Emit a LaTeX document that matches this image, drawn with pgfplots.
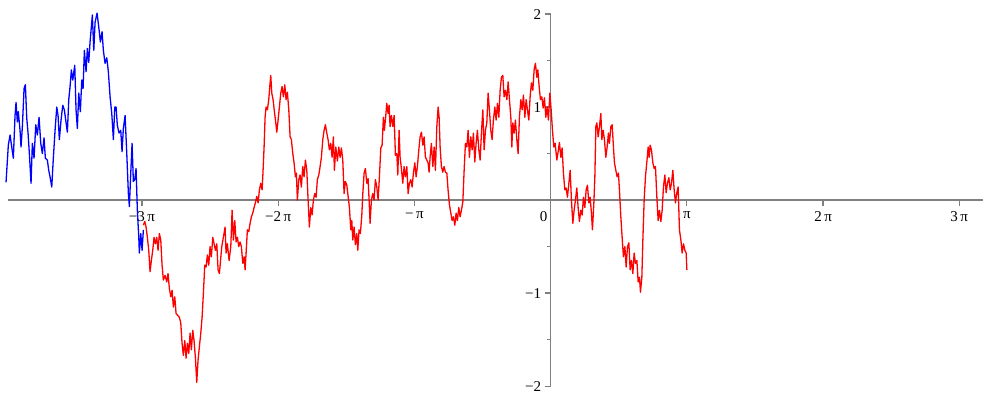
\documentclass[border=0pt]{standalone}
\usepackage{fontspec}
\setmainfont{Liberation Serif}
\usepackage{pgfplots}
\pgfplotsset{compat=1.18}
\begin{document}
\begin{tikzpicture}
\begin{axis}[
  x=43.35pt, y=93pt,
  xmin=-12.52, xmax=9.98, ymin=-2, ymax=2,
  axis lines=middle,
  axis line style={-, draw=gray, line width=1.2pt},
  xtick={-9.42478,-6.28319,-3.14159,3.14159,6.28319,9.42478},
  xticklabels={−3\,π,−2\,π,−\,π,π,2\,π,3\,π},
  ytick={-2,-1,1,2}, yticklabels={−2,−1,1,2},
  minor ytick={-1.5,-0.5,0.5,1.5},
  tick align=outside,
  major tick length=6pt, minor tick length=3.5pt,
  tick style={draw=gray, line width=1.2pt},
  ticklabel style={font=\fontsize{15}{17}\selectfont},
  xticklabel style={yshift=-2pt},
  clip=false,
]
\addplot[blue, line width=1.3pt, line join=round] coordinates {
(-12.561,0.19)(-12.508,0.59)(-12.468,0.70)(-12.429,0.57)(-12.392,0.45)(-12.353,0.91)(-12.330,1.05)(-12.300,0.84)(-12.277,0.95)(-12.238,0.75)(-12.215,0.57)(-12.184,0.79)(-12.145,1.20)(-12.115,1.24)(-12.083,0.88)(-12.053,0.72)(-12.023,0.50)(-11.984,0.18)(-11.954,0.61)(-11.915,0.45)(-11.875,0.81)(-11.838,0.70)(-11.799,0.89)(-11.760,0.61)(-11.723,0.50)(-11.684,0.67)(-11.654,0.45)(-11.608,0.43)(-11.576,0.32)(-11.546,0.25)(-11.506,0.14)(-11.470,0.45)(-11.430,0.75)(-11.391,1.00)(-11.361,0.91)(-11.331,0.65)(-11.292,0.86)(-11.252,1.02)(-11.216,0.97)(-11.176,0.83)(-11.146,0.73)(-11.114,1.08)(-11.084,1.22)(-11.054,1.40)(-11.022,1.29)(-10.976,1.45)(-10.946,0.97)(-10.916,0.77)(-10.883,1.15)(-10.847,0.95)(-10.814,1.29)(-10.784,1.20)(-10.754,1.61)(-10.715,1.38)(-10.685,1.63)(-10.653,1.48)(-10.623,1.70)(-10.593,1.86)(-10.570,1.99)(-10.537,1.61)(-10.507,1.91)(-10.461,2.01)(-10.422,1.86)(-10.385,1.70)(-10.346,1.81)(-10.316,1.61)(-10.277,1.47)(-10.237,1.53)(-10.201,1.38)(-10.161,1.11)(-10.122,0.93)(-10.085,0.65)(-10.053,1.00)(-10.023,1.00)(-9.993,0.80)(-9.954,0.72)(-9.915,0.75)(-9.885,0.52)(-9.855,0.77)(-9.815,0.91)(-9.776,0.50)(-9.739,0.07)(-9.716,-0.07)(-9.684,0.29)(-9.654,0.61)(-9.624,0.20)(-9.592,0.22)(-9.562,0.34)(-9.532,-0.11)(-9.499,-0.40)(-9.486,-0.57)(-9.453,-0.36)(-9.423,-0.54)(-9.393,-0.32)
};
\addplot[red, line width=1.3pt, line join=round] coordinates {
(-9.394,-0.27)(-9.361,-0.23)(-9.331,-0.29)(-9.301,-0.40)(-9.269,-0.54)(-9.239,-0.77)(-9.209,-0.65)(-9.177,-0.54)(-9.147,-0.40)(-9.117,-0.47)(-9.085,-0.40)(-9.055,-0.54)(-9.024,-0.36)(-8.992,-0.43)(-8.962,-0.70)(-8.932,-0.86)(-8.893,-0.81)(-8.854,-0.88)(-8.824,-0.79)(-8.794,-0.95)(-8.761,-1.04)(-8.731,-0.97)(-8.701,-1.15)(-8.669,-1.04)(-8.639,-1.22)(-8.600,-1.24)(-8.563,-1.26)(-8.531,-1.32)(-8.501,-1.54)(-8.471,-1.67)(-8.438,-1.51)(-8.408,-1.70)(-8.378,-1.54)(-8.346,-1.65)(-8.316,-1.43)(-8.286,-1.61)(-8.254,-1.40)(-8.224,-1.51)(-8.194,-1.69)(-8.162,-1.96)(-8.132,-1.72)(-8.102,-1.58)(-8.069,-1.43)(-8.039,-1.26)(-8.009,-1.00)(-7.977,-0.70)(-7.947,-0.72)(-7.917,-0.59)(-7.885,-0.70)(-7.855,-0.50)(-7.825,-0.61)(-7.793,-0.40)(-7.762,-0.47)(-7.732,-0.54)(-7.700,-0.47)(-7.670,-0.75)(-7.640,-0.79)(-7.585,-0.50)(-7.548,-0.40)(-7.509,-0.29)(-7.486,-0.57)(-7.456,-0.47)(-7.416,-0.65)(-7.377,-0.50)(-7.347,-0.11)(-7.317,-0.43)(-7.285,-0.22)(-7.255,-0.45)(-7.225,-0.40)(-7.193,-0.50)(-7.163,-0.45)(-7.133,-0.50)(-7.100,-0.68)(-7.070,-0.61)(-7.047,-0.75)(-7.024,-0.57)(-6.994,-0.32)(-6.962,-0.34)(-6.932,-0.25)(-6.902,-0.18)(-6.870,-0.14)(-6.840,-0.08)(-6.810,-0.03)(-6.777,0.04)(-6.747,-0.03)(-6.717,0.11)(-6.685,0.18)(-6.655,0.11)(-6.639,0.25)(-6.609,0.57)(-6.586,0.89)(-6.563,1.00)(-6.533,0.97)(-6.501,1.08)(-6.478,1.22)(-6.455,1.34)(-6.432,1.15)(-6.401,1.08)(-6.371,0.95)(-6.339,0.83)(-6.316,0.73)(-6.286,0.86)(-6.256,1.00)(-6.224,1.15)(-6.194,1.22)(-6.164,1.11)(-6.132,1.24)(-6.102,1.08)(-6.072,1.16)(-6.039,0.97)(-6.009,0.68)(-5.979,0.65)(-5.947,0.50)(-5.917,0.40)(-5.887,0.25)(-5.864,0.29)(-5.841,0.00)(-5.809,0.22)(-5.779,0.27)(-5.749,0.14)(-5.717,0.36)(-5.687,0.25)(-5.656,0.43)(-5.624,0.32)(-5.594,0.00)(-5.564,-0.29)(-5.532,-0.08)(-5.502,-0.16)(-5.472,0.00)(-5.440,0.07)(-5.410,0.03)(-5.380,0.22)(-5.347,0.27)(-5.317,0.36)(-5.287,0.46)(-5.255,0.65)(-5.225,0.75)(-5.195,0.81)(-5.163,0.72)(-5.133,0.65)(-5.103,0.54)(-5.071,0.61)(-5.041,0.46)(-5.011,0.68)(-4.987,0.32)(-4.955,0.57)(-4.918,0.42)(-4.886,0.57)(-4.856,0.46)(-4.826,0.56)(-4.794,0.43)(-4.764,0.07)(-4.734,0.20)(-4.701,0.16)(-4.671,0.04)(-4.641,-0.08)(-4.609,-0.32)(-4.586,-0.22)(-4.563,-0.43)(-4.533,-0.29)(-4.503,-0.48)(-4.471,-0.36)(-4.448,-0.54)(-4.418,-0.32)(-4.388,-0.36)(-4.355,-0.16)(-4.332,0.07)(-4.302,0.29)(-4.272,0.34)(-4.240,0.18)(-4.210,0.23)(-4.187,0.00)(-4.164,-0.25)(-4.134,0.00)(-4.102,0.07)(-4.072,0.00)(-4.042,0.22)(-4.009,0.14)(-3.979,0.00)(-3.949,0.25)(-3.917,0.56)(-3.887,0.59)(-3.857,0.89)(-3.834,0.75)(-3.802,0.91)(-3.779,1.04)(-3.749,0.93)(-3.726,1.02)(-3.703,0.79)(-3.673,0.91)(-3.640,0.79)(-3.610,0.91)(-3.580,0.48)(-3.548,0.50)(-3.525,0.27)(-3.495,0.75)(-3.472,0.46)(-3.442,0.34)(-3.410,0.18)(-3.380,0.36)(-3.350,0.25)(-3.317,0.36)(-3.287,0.07)(-3.257,0.18)(-3.225,0.22)(-3.195,0.14)(-3.165,0.29)(-3.133,0.40)(-3.103,0.25)(-3.073,0.36)(-3.040,0.54)(-3.010,0.68)(-2.980,0.73)(-2.948,0.59)(-2.918,0.68)(-2.888,0.46)(-2.856,0.43)(-2.826,0.40)(-2.803,0.30)(-2.780,0.46)(-2.750,0.61)(-2.717,0.36)(-2.687,0.57)(-2.657,0.32)(-2.625,0.79)(-2.595,1.00)(-2.572,0.89)(-2.549,0.57)(-2.519,0.36)(-2.487,0.30)(-2.457,0.36)(-2.427,0.30)(-2.394,0.29)(-2.364,0.10)(-2.334,-0.05)(-2.302,-0.14)(-2.272,-0.22)(-2.242,-0.18)(-2.210,-0.27)(-2.180,-0.14)(-2.150,-0.22)(-2.118,-0.08)(-2.088,-0.18)(-2.058,-0.11)(-2.025,-0.02)(-1.995,0.32)(-1.965,0.61)(-1.933,0.57)(-1.903,0.75)(-1.873,0.46)(-1.841,0.68)(-1.811,0.54)(-1.781,0.72)(-1.749,0.41)(-1.719,0.61)(-1.689,0.75)(-1.656,0.54)(-1.626,0.43)(-1.596,0.72)(-1.564,0.97)(-1.534,0.54)(-1.504,0.75)(-1.472,0.83)(-1.442,1.15)(-1.412,0.97)(-1.380,0.75)(-1.350,0.65)(-1.320,0.86)(-1.287,1.00)(-1.257,0.86)(-1.227,1.04)(-1.195,0.89)(-1.165,1.18)(-1.135,1.32)(-1.103,1.34)(-1.073,1.11)(-1.043,1.18)(-1.010,1.08)(-0.980,1.27)(-0.950,1.08)(-0.918,0.89)(-0.895,0.57)(-0.872,0.83)(-0.842,0.72)(-0.812,0.86)(-0.780,0.65)(-0.750,0.50)(-0.720,0.89)(-0.687,1.08)(-0.657,0.97)(-0.627,1.13)(-0.595,0.89)(-0.565,1.08)(-0.535,0.97)(-0.503,0.86)(-0.473,1.11)(-0.443,1.26)(-0.411,1.18)(-0.381,1.40)(-0.351,1.47)(-0.318,1.32)(-0.295,1.40)(-0.265,1.22)(-0.235,1.08)(-0.203,1.11)(-0.173,0.99)(-0.143,1.10)(-0.111,0.89)(-0.081,1.00)(-0.051,0.86)(-0.018,1.15)(0.012,0.97)(0.042,0.75)(0.074,0.57)(0.104,0.61)(0.143,0.43)(0.173,0.52)(0.203,0.62)(0.235,0.46)(0.265,0.56)(0.295,0.29)(0.328,0.11)(0.358,0.13)(0.388,0.03)(0.420,0.18)(0.450,0.32)(0.480,0.00)(0.512,-0.25)(0.542,-0.11)(0.572,0.00)(0.604,0.13)(0.634,-0.08)(0.664,-0.23)(0.697,-0.11)(0.727,-0.16)(0.757,0.03)(0.789,-0.08)(0.819,0.11)(0.849,0.16)(0.881,-0.03)(0.911,0.03)(0.941,-0.14)(0.964,-0.32)(0.997,-0.03)(1.020,0.25)(1.043,0.79)(1.066,0.83)(1.096,0.68)(1.126,0.79)(1.158,0.93)(1.181,0.65)(1.211,0.75)(1.241,0.65)(1.273,0.46)(1.303,0.57)(1.333,0.72)(1.356,0.61)(1.389,0.79)(1.419,0.81)(1.449,0.57)(1.472,0.40)(1.504,0.32)(1.534,0.25)(1.564,0.29)(1.587,0.11)(1.619,-0.18)(1.649,-0.40)(1.679,-0.61)(1.712,-0.50)(1.742,-0.72)(1.772,-0.50)(1.804,-0.46)(1.834,-0.75)(1.864,-0.65)(1.896,-0.79)(1.926,-0.57)(1.956,-0.68)(1.989,-0.65)(2.019,-0.88)(2.049,-0.83)(2.072,-0.99)(2.104,-0.83)(2.127,-0.43)(2.157,0.00)(2.187,0.25)(2.219,0.41)(2.249,0.57)(2.272,0.46)(2.295,0.59)(2.325,0.54)(2.358,0.40)(2.388,0.34)(2.418,0.36)(2.450,0.03)(2.480,-0.22)(2.510,-0.11)(2.542,-0.23)(2.572,-0.11)(2.602,0.14)(2.634,0.27)(2.664,0.08)(2.694,0.18)(2.727,0.24)(2.757,0.11)(2.787,0.18)(2.819,0.32)(2.849,0.11)(2.879,-0.03)(2.911,0.08)(2.941,0.14)(2.971,-0.32)(3.004,-0.43)(3.034,-0.57)(3.064,-0.47)(3.096,-0.54)(3.126,-0.57)(3.142,-0.75)
};
\node[anchor=north east, inner sep=0pt, font=\fontsize{15}{17}\selectfont] at (axis cs:0,0) [xshift=-3pt, yshift=-11pt] {0};
\path[draw=none] (axis cs:-12.70,-2.151) rectangle (axis cs:10.18,2.151);
\end{axis}
\end{tikzpicture}
\end{document}
